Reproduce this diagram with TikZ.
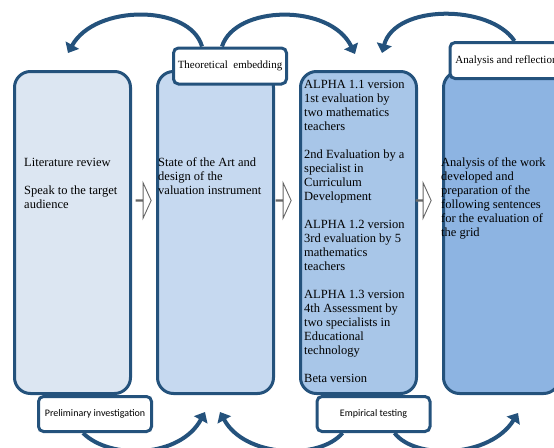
\documentclass[tikz,border=0pt]{standalone}
\usepackage{fontspec}
\setmainfont{Liberation Serif}
\newfontfamily\calibrifont{Carlito}
\usetikzlibrary{positioning, arrows.meta, shapes.arrows, backgrounds}

\definecolor{edgeblue}{RGB}{36,82,124}
\definecolor{fillone}{RGB}{220,230,242}
\definecolor{filltwo}{RGB}{198,217,240}
\definecolor{fillthree}{RGB}{168,198,232}
\definecolor{fillfour}{RGB}{141,180,226}

\begin{document}
\begin{tikzpicture}[
    x=1pt, y=-1pt,
    stagebox/.style={rectangle, rounded corners=16pt, draw=edgeblue, line width=3pt, minimum width=116pt, minimum height=322pt},
    stagetext/.style={anchor=north west, inner sep=0pt, align=left, font=\fontsize{12.5}{14}\selectfont},
    phasetag/.style={rectangle, rounded corners=5pt, draw=edgeblue, line width=3pt, fill=white, minimum width=113pt, minimum height=36pt, font=\fontsize{11}{13}\selectfont},
    sidetag/.style={phasetag, font=\calibrifont\fontsize{10}{12}\selectfont},
    handover/.style={single arrow, draw=black!60, fill=white, line width=0.9pt, minimum height=15pt, minimum width=35pt, single arrow head extend=11pt, single arrow tip angle=131, inner sep=0pt},
    looparrow/.style={-{Triangle[length=9pt, width=15pt]}, line width=4pt, draw=edgeblue}
]
\useasboundingbox (0,0) rectangle (554,447);

% Stages
\node[stagebox, fill=fillone] (lit_box) at (72.5,232.5) {};
\node[stagebox, fill=filltwo, right=24pt of lit_box] (art_box) {};
\node[stagebox, fill=fillthree, right=24pt of art_box] (alpha_box) {};
\node[stagebox, fill=fillfour, right=24pt of alpha_box] (grid_box) {};

\node[stagetext] (lit_text) at (24,158.5) {Literature review\\[14pt] Speak to the target\\ audience};
\node[stagetext] (art_text) at (158,157.5) {State of the Art and\\ design of the\\ valuation instrument};
\node[stagetext] (alpha_text) at (304,80.5) {ALPHA 1.1 version\\ 1st evaluation by\\ two mathematics\\ teachers\\[14pt]
    2nd Evaluation by a\\ specialist in\\ Curriculum\\ Development\\[14pt]
    ALPHA 1.2 version\\ 3rd evaluation by 5\\ mathematics\\ teachers\\[14pt]
    ALPHA 1.3 version\\ 4th Assessment by\\ two specialists in\\ Educational\\ technology\\[14pt]
    Beta version};
\node[stagetext] (grid_text) at (441,157.5) {Analysis of the work\\ developed and\\ preparation of the\\ following sentences\\ for the evaluation of\\ the grid};

% Hand-over arrows
\node[handover] (hand_a) at (143.5,200.5) {};
\node[handover] (hand_b) at (283.5,200.5) {};
\node[handover] (hand_c) at (423.5,200.5) {};

% Phase tags
\node[phasetag] (theory_tag) at (230,66) {Theoretical\ \ embedding};
\node[phasetag, anchor=west] (reflect_tag) at (448.5,60.5) {Analysis and reflection};
\node[sidetag, minimum height=35pt] (prelim_tag) at (95,414) {Preliminary investigation};
\node[sidetag, minimum height=35pt] (empiric_tag) at (373.5,414) {Empirical testing};

% Cycle ends
\coordinate (tip_a) at (68,53);
\coordinate (tip_b) at (355,54);
\coordinate (tip_c) at (382,53);
\coordinate (tip_d) at (205,412);
\coordinate (tip_e) at (220,412);
\coordinate (tip_f) at (518,413);

\begin{scope}[on background layer]
    \draw[looparrow] ([xshift=-28pt]theory_tag.north) .. controls (190,4) and (95,4) .. (tip_a);
    \draw[looparrow] ([xshift=-8pt]theory_tag.north) .. controls (235,5) and (330,3) .. (tip_b);
    \draw[looparrow] ([xshift=8pt]reflect_tag.north) .. controls (490,4) and (395,4) .. (tip_c);
    \draw[looparrow] ([xshift=-12pt]prelim_tag.south) .. controls (110,460) and (180,458) .. (tip_d);
    \draw[looparrow] ([xshift=-31pt]empiric_tag.south) .. controls (320,460) and (245,458) .. (tip_e);
    \draw[looparrow] ([xshift=21pt]empiric_tag.south) .. controls (415,460) and (490,458) .. (tip_f);
\end{scope}

\end{tikzpicture}
\end{document}
